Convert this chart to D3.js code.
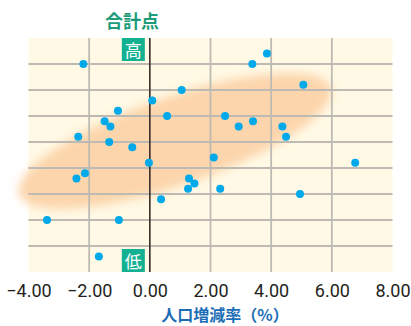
<!DOCTYPE html>
<html>
<head>
<meta charset="utf-8">
<script src="https://cdn.jsdelivr.net/npm/d3@7"></script>
<style>
  html, body { margin: 0; padding: 0; background: #fff; }
  svg { display: block; }
</style>
</head>
<body>
<svg id="chart" width="411" height="326"></svg>
<script>
// Population change rate (%) per municipality
const growthRate = [
  -2.19, 3.38, 3.86, 5.06, 1.05, 0.08, -1.05, 0.57, 2.48, -1.49, -1.30,
  2.93, 3.40, 4.37, 4.49, -2.36, -1.34, -0.58, -0.03, 2.11, 6.77, -2.14,
  -2.42, 1.29, 1.47, 1.26, 2.32, 4.95, 0.37, -3.39, -1.02, -1.68
];
// Total score per municipality
const totalScore = [
  40, 40, 42, 36, 35, 33, 31, 30, 30, 29, 28,
  28, 29, 28, 26, 26, 25, 24, 21, 22, 21, 19,
  18, 18, 17, 16, 16, 15, 14, 10, 10, 3
];
const xTicks = [-4, -2, 0, 2, 4, 6, 8];
const yGrid = [5, 10, 15, 20, 25, 30, 35, 40];
const xDomain = [-4, 8];
const yDomain = [0, 45];
// Trend band: ends of its long axis in data units
const bandStart = [-4.31, 14.9];
const bandEnd = [5.97, 35.5];

const svg = d3.select("#chart");
const x = d3.scaleLinear().domain(xDomain).range([28.5, 392.5]);
const y = d3.scaleLinear().domain(yDomain).range([272, 38]);

const defs = svg.append("defs");
defs.append("filter").attr("id", "soft")
  .attr("x", "-20%").attr("y", "-60%").attr("width", "140%").attr("height", "220%")
  .append("feGaussianBlur").attr("stdDeviation", 5);

// plot background
svg.append("rect")
  .attr("x", x(xDomain[0])).attr("y", y(yDomain[1]))
  .attr("width", x(xDomain[1]) - x(xDomain[0]))
  .attr("height", y(yDomain[0]) - y(yDomain[1]))
  .attr("fill", "#fff9e5");

// blurred trend band
const bx0 = x(bandStart[0]), by0 = y(bandStart[1]);
const bx1 = x(bandEnd[0]), by1 = y(bandEnd[1]);
const cx = (bx0 + bx1) / 2, cy = (by0 + by1) / 2;
const ang = Math.atan2(by1 - by0, bx1 - bx0) * 180 / Math.PI;
const len = Math.hypot(bx1 - bx0, by1 - by0) / 2;
svg.append("ellipse")
  .attr("cx", 0).attr("cy", 0)
  .attr("rx", len).attr("ry", 44)
  .attr("transform", `translate(${cx},${cy}) rotate(${ang})`)
  .attr("fill", "#fcd5ac")
  .attr("filter", "url(#soft)");

// grid
svg.append("g").selectAll("line")
  .data(yGrid).join("line")
  .attr("x1", x(xDomain[0])).attr("x2", x(xDomain[1]))
  .attr("y1", d => y(d)).attr("y2", d => y(d))
  .attr("stroke", "#bdbab4").attr("stroke-width", 1.8);
svg.append("g").selectAll("line")
  .data(xTicks.filter(d => d > xDomain[0] && d < xDomain[1] && d !== 0)).join("line")
  .attr("x1", d => x(d)).attr("x2", d => x(d))
  .attr("y1", y(yDomain[1])).attr("y2", y(yDomain[0]))
  .attr("stroke", "#bdbab4").attr("stroke-width", 1.8);

// zero line
svg.append("line")
  .attr("x1", x(0)).attr("x2", x(0))
  .attr("y1", y(yDomain[1])).attr("y2", y(yDomain[0]))
  .attr("stroke", "#3a2d28").attr("stroke-width", 1.6);

// high / low markers
const marks = [["高", yDomain[1], 0], ["低", yDomain[0], -23]];
const mg = svg.append("g").selectAll("g").data(marks).join("g")
  .attr("transform", d => `translate(${x(0) - 28},${y(d[1]) + d[2]})`);
mg.append("rect").attr("width", 23).attr("height", 23).attr("fill", "#13b192");
mg.append("text").text(d => d[0])
  .attr("x", 11.5).attr("y", 18.5).attr("text-anchor", "middle")
  .attr("fill", "#fff").attr("font-size", 17)
  .attr("font-family", "'Noto Sans CJK JP', sans-serif");

// points
svg.append("g").selectAll("circle")
  .data(growthRate.map((v, i) => [v, totalScore[i]])).join("circle")
  .attr("cx", d => x(d[0])).attr("cy", d => y(d[1]))
  .attr("r", 4).attr("fill", "#00a9e9");

// x axis
const axis = svg.append("g")
  .attr("transform", `translate(0,${y(yDomain[0])})`)
  .call(d3.axisBottom(x).tickValues(xTicks).tickFormat(d3.format(".2f")).tickSize(0).tickPadding(12));
axis.select(".domain").remove();
axis.selectAll("text")
  .attr("font-family", "Roboto, sans-serif")
  .attr("font-size", 18).attr("fill", "#231f20");

// titles
svg.append("text").text("合計点")
  .attr("x", 132).attr("y", 28).attr("text-anchor", "middle")
  .attr("font-family", "'Noto Sans CJK JP', sans-serif")
  .attr("font-weight", "bold").attr("font-size", 18).attr("fill", "#1c9c78");
svg.append("text").text("人口増減率（%）")
  .attr("x", 225).attr("y", 321).attr("text-anchor", "middle")
  .attr("font-family", "'Noto Sans CJK JP', sans-serif")
  .attr("font-weight", "bold").attr("font-size", 16).attr("fill", "#1b6db6");
</script>
</body>
</html>
